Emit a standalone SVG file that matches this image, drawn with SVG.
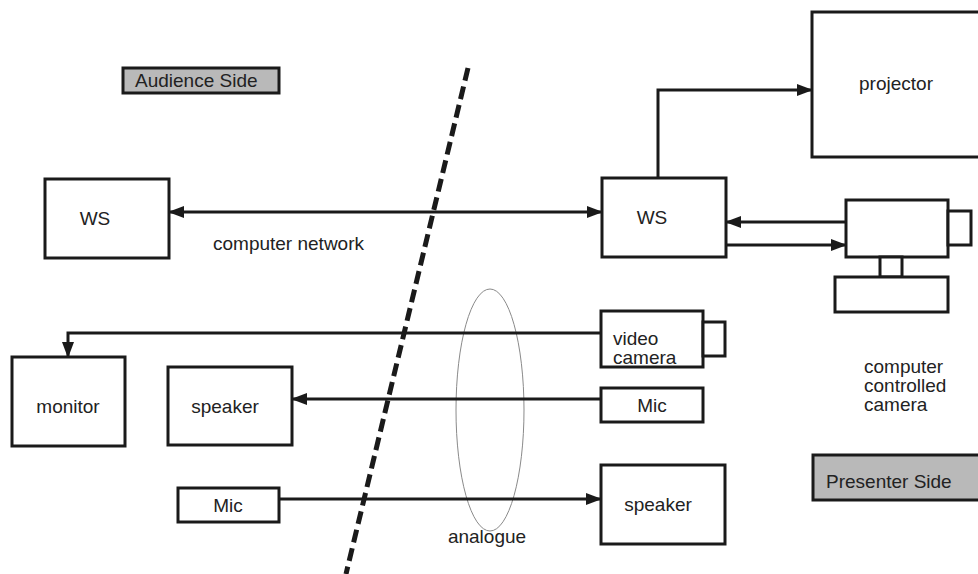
<svg xmlns="http://www.w3.org/2000/svg" width="978" height="574" viewBox="0 0 978 574">
<defs>
<style>
.box{fill:#fff;stroke:#1a1a1a;stroke-width:3}
.side{fill:#b9b9b9;stroke:#1a1a1a;stroke-width:3}
.t{font-family:"Liberation Sans",Arial,sans-serif;font-size:19px;fill:#222}
.c{text-anchor:middle}
.con{fill:none;stroke:#1a1a1a;stroke-width:3}
</style>
<marker id="ah" markerUnits="userSpaceOnUse" markerWidth="16" markerHeight="12" refX="15" refY="6" orient="auto-start-reverse">
<path d="M0,0 L16,6 L0,12 Z" fill="#1a1a1a"/>
</marker>
</defs>
<rect width="978" height="574" fill="#fff"/>

<g id="dividers">
<line x1="468" y1="68" x2="346" y2="574" stroke="#1a1a1a" stroke-width="5" stroke-dasharray="13 6"/>
<ellipse cx="490" cy="410" rx="34" ry="121" fill="none" stroke="#8a8a8a" stroke-width="1"/>
<text class="t c" x="487" y="543">analogue</text>
</g>

<g id="connectors">
<line class="con" x1="169" y1="212" x2="602" y2="212" stroke-width="4" marker-start="url(#ah)" marker-end="url(#ah)"/>
<path class="con" d="M658 178 V90 H812" marker-end="url(#ah)"/>
<path class="con" d="M846 222 H726" marker-end="url(#ah)"/>
<path class="con" d="M726 245 H846" marker-end="url(#ah)"/>
<path class="con" d="M601 333 H68 V357" marker-end="url(#ah)"/>
<path class="con" d="M601 399 H292" marker-end="url(#ah)"/>
<path class="con" d="M279 499 H601" marker-end="url(#ah)"/>
<text class="t" x="213" y="250">computer network</text>
</g>

<g id="audience-side">
<rect class="side" x="123" y="68" width="156" height="25"/>
<text class="t" x="135" y="87">Audience Side</text>
</g>

<g id="presenter-side">
<rect class="side" x="813" y="455" width="170" height="45"/>
<text class="t" x="826" y="488">Presenter Side</text>
</g>

<g id="projector">
<rect class="box" x="812" y="12" width="172" height="145"/>
<text class="t c" x="896" y="90">projector</text>
</g>

<g id="ws-left">
<rect class="box" x="45" y="179" width="124" height="79"/>
<text class="t c" x="95" y="225">WS</text>
</g>

<g id="ws-right">
<rect class="box" x="602" y="178" width="124" height="79"/>
<text class="t c" x="652" y="224">WS</text>
</g>

<g id="computer-camera">
<rect class="box" x="846" y="200" width="102" height="57"/>
<rect class="box" x="948" y="211" width="23" height="34"/>
<rect class="box" x="880" y="257" width="22" height="20"/>
<rect class="box" x="835" y="277" width="113" height="35"/>
<text class="t" x="864" y="373">computer</text>
<text class="t" x="864" y="392">controlled</text>
<text class="t" x="864" y="411">camera</text>
</g>

<g id="video-camera">
<rect class="box" x="601" y="311" width="102" height="56"/>
<rect class="box" x="703" y="322" width="22" height="34"/>
<text class="t" x="613" y="345">video</text>
<text class="t" x="613" y="364">camera</text>
</g>

<g id="monitor">
<rect class="box" x="12" y="357" width="113" height="89"/>
<text class="t c" x="68" y="413">monitor</text>
</g>

<g id="speaker-left">
<rect class="box" x="168" y="367" width="124" height="78"/>
<text class="t c" x="225" y="413">speaker</text>
</g>

<g id="mic-right">
<rect class="box" x="601" y="388" width="102" height="34"/>
<text class="t c" x="652" y="412">Mic</text>
</g>

<g id="mic-left">
<rect class="box" x="178" y="488" width="101" height="34"/>
<text class="t c" x="228" y="512">Mic</text>
</g>

<g id="speaker-right">
<rect class="box" x="601" y="465" width="124" height="79"/>
<text class="t c" x="658" y="511">speaker</text>
</g>
</svg>
